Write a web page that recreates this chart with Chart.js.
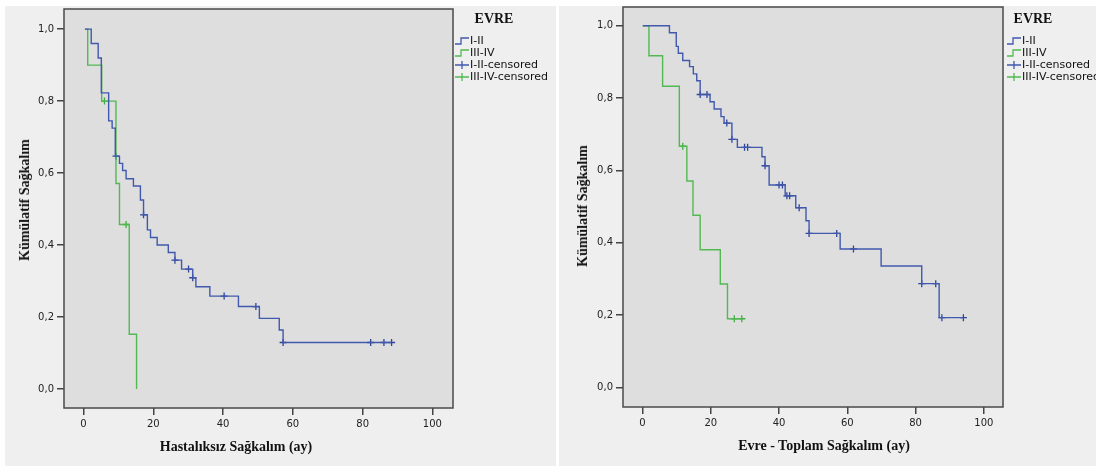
<!DOCTYPE html>
<html><head><meta charset="utf-8">
<script src="https://cdn.jsdelivr.net/npm/chart.js@4.4.0/dist/chart.umd.min.js"></script>
<style>
html,body{margin:0;padding:0;background:#fff;width:1096px;height:466px;overflow:hidden;position:relative;}
.panel{position:absolute;background:#efefef;}
canvas{position:absolute;}
.ytitle{position:absolute;font:bold 14px "Liberation Serif",serif;color:#111;white-space:nowrap;transform:translate(-50%,-50%) rotate(-90deg);}
.xtitle{position:absolute;font:bold 14px "Liberation Serif",serif;color:#111;white-space:nowrap;transform:translate(-50%,-50%);}
.lgttl{position:absolute;font:bold 14px "Liberation Serif",serif;color:#111;white-space:nowrap;transform:translate(-50%,-50%);}
.lgitem{position:absolute;font:11px "DejaVu Sans",sans-serif;color:#111;white-space:nowrap;transform:translateY(-50%);display:flex;align-items:center;line-height:12px;}
.lgitem svg{display:block;margin-right:1px;}
</style>
</head><body>
<div class="panel" style="left:5px;top:6px;width:551px;height:460px;"></div>
<div class="panel" style="left:559px;top:6px;width:537px;height:460px;"></div>
<canvas id="c1" width="551" height="476" style="left:5px;top:-10px;"></canvas>
<canvas id="c2" width="537" height="476" style="left:559px;top:-10px;"></canvas>
<div class="ytitle" style="left:25px;top:200px;">Kümülatif Sağkalım</div>
<div class="ytitle" style="left:583px;top:206px;">Kümülatif Sağkalım</div>
<div class="xtitle" style="left:236px;top:447px;">Hastalıksız Sağkalım (ay)</div>
<div class="xtitle" style="left:824px;top:446px;">Evre - Toplam Sağkalım (ay)</div>
<div id="lg1"></div>
<div id="lg2"></div>
<script>
// ---- shared axis ticks ----
const xTicks = [0, 20, 40, 60, 80, 100];
const xTickLabels = ['0', '20', '40', '60', '80', '100'];
const yTicks = [0, 0.2, 0.4, 0.6, 0.8, 1.0];
const yTickLabels = ['0,0', '0,2', '0,4', '0,6', '0,8', '1,0'];
const legendTitle = 'EVRE';
const legendLabels = ['I-II', 'III-IV', 'I-II-censored', 'III-IV-censored'];

// ---- Chart 1: Hastalıksız Sağkalım ----
const dfsTimeI = [0.4, 2.2, 4.2, 5.1, 7.2, 8.2, 9.1, 10.3, 11.2, 12.2, 14.3, 16.3, 17.2, 18.3, 19.2, 21.1, 24.3, 26.2, 28.1, 31.3, 32.2, 36.2, 44.4, 50.4, 56.1, 57.2, 88.3];
const dfsSurvI = [1.0, 0.96, 0.92, 0.823, 0.745, 0.725, 0.647, 0.627, 0.607, 0.584, 0.564, 0.525, 0.484, 0.442, 0.421, 0.400, 0.379, 0.358, 0.333, 0.309, 0.284, 0.258, 0.229, 0.196, 0.164, 0.129, 0.129];
const dfsCensTimeI = [9.3, 17.2, 26.2, 30.1, 31.3, 40.3, 49.4, 57.2, 82.3, 86.1, 88.3];
const dfsCensSurvI = [0.647, 0.484, 0.358, 0.333, 0.309, 0.258, 0.229, 0.129, 0.129, 0.129, 0.129];
const dfsTimeIII = [0.4, 1.2, 5.2, 9.3, 10.3, 13.1, 15.2];
const dfsSurvIII = [1.0, 0.9, 0.8, 0.571, 0.457, 0.152, 0.0];
const dfsCensTimeIII = [6.0, 12.2];
const dfsCensSurvIII = [0.8, 0.457];

// ---- Chart 2: Evre - Toplam Sağkalım ----
const osTimeI = [0.1, 7.9, 9.9, 10.5, 11.8, 13.8, 14.9, 15.9, 16.9, 19.8, 21.0, 23.0, 23.9, 26.2, 27.8, 35.0, 35.9, 37.1, 41.8, 44.9, 47.9, 48.8, 57.9, 69.9, 81.8, 86.9, 94.0];
const osSurvI = [1.0, 0.981, 0.943, 0.924, 0.904, 0.887, 0.867, 0.848, 0.810, 0.790, 0.770, 0.749, 0.731, 0.686, 0.664, 0.638, 0.613, 0.560, 0.530, 0.497, 0.461, 0.426, 0.383, 0.336, 0.287, 0.193, 0.193];
const osCensTimeI = [16.9, 18.9, 24.7, 26.2, 29.9, 30.8, 35.9, 40.0, 41.0, 42.3, 43.1, 45.9, 48.8, 56.9, 61.8, 81.8, 85.9, 87.7, 94.0];
const osCensSurvI = [0.810, 0.810, 0.731, 0.686, 0.664, 0.664, 0.613, 0.560, 0.560, 0.530, 0.530, 0.497, 0.426, 0.426, 0.383, 0.287, 0.287, 0.193, 0.193];
const osTimeIII = [0.1, 1.9, 5.9, 10.8, 13.0, 14.8, 16.9, 22.8, 24.9, 29.1];
const osSurvIII = [1.0, 0.917, 0.833, 0.667, 0.571, 0.476, 0.381, 0.286, 0.190, 0.190];
const osCensTimeIII = [11.8, 26.9, 29.1];
const osCensSurvIII = [0.667, 0.190, 0.190];

const BLUE = '#4159ad';
const GREEN = '#52b952';
const BLUE_C = '#2f4599';
const GREEN_C = '#3fae3f';

const pts = (t, s) => t.map((v, i) => ({x: v, y: s[i]}));

const framePlugin = {
  id: 'frame',
  beforeDraw(chart) {
    const {ctx, chartArea: a} = chart;
    ctx.save();
    ctx.fillStyle = '#dedede';
    ctx.fillRect(a.left, a.top, a.right - a.left, a.bottom - a.top);
    ctx.restore();
  },
  afterDraw(chart) {
    const {ctx, chartArea: a} = chart;
    ctx.save();
    ctx.strokeStyle = '#4a4a4a';
    ctx.lineWidth = 1.5;
    ctx.strokeRect(a.left, a.top, a.right - a.left, a.bottom - a.top);
    ctx.restore();
  }
};

function makeChart(id, d, geo) {
  const ds = [
    {label: legendLabels[0], data: pts(d.tI, d.sI), stepped: 'before', borderColor: BLUE, borderWidth: 1.4, pointRadius: 0, fill: false},
    {label: legendLabels[1], data: pts(d.tIII, d.sIII), stepped: 'before', borderColor: GREEN, borderWidth: 1.4, pointRadius: 0, fill: false},
    {label: legendLabels[2], data: pts(d.ctI, d.csI), showLine: false, pointStyle: 'cross', pointRadius: 3.5, pointBorderColor: BLUE_C, pointBorderWidth: 1.3, borderColor: BLUE_C},
    {label: legendLabels[3], data: pts(d.ctIII, d.csIII), showLine: false, pointStyle: 'cross', pointRadius: 3.5, pointBorderColor: GREEN_C, pointBorderWidth: 1.3, borderColor: GREEN_C}
  ];
  const tickFont = {family: 'DejaVu Sans', size: 10};
  return new Chart(document.getElementById(id), {
    type: 'line',
    data: {datasets: ds},
    options: {
      responsive: false, animation: false, devicePixelRatio: 1,
      layout: {padding: {left: 0, top: geo.top, right: geo.right, bottom: 0}},
      plugins: {legend: {display: false}, tooltip: {enabled: false}},
      events: [],
      scales: {
        x: {
          type: 'linear', min: geo.xmin, max: geo.xmax,
          afterBuildTicks: s => { s.ticks = xTicks.map(v => ({value: v})); },
          afterFit: s => { s.height = geo.xh; },
          ticks: {callback: (v, i) => xTickLabels[i], font: tickFont, color: '#222', padding: 3, maxRotation: 0, autoSkip: false},
          grid: {display: true, drawOnChartArea: false, drawTicks: true, tickLength: 7, color: '#444', lineWidth: 1.5},
          border: {display: false}
        },
        y: {
          type: 'linear', min: geo.ymin, max: geo.ymax,
          afterBuildTicks: s => { s.ticks = yTicks.map(v => ({value: v})); },
          afterFit: s => { s.width = geo.yw; },
          ticks: {callback: (v, i) => yTickLabels[i], font: tickFont, color: '#222', padding: 3, autoSkip: false},
          grid: {display: true, drawOnChartArea: false, drawTicks: true, tickLength: 7, color: '#444', lineWidth: 1.5},
          border: {display: false}
        }
      }
    },
    plugins: [framePlugin]
  });
}

makeChart('c1',
  {tI: dfsTimeI, sI: dfsSurvI, ctI: dfsCensTimeI, csI: dfsCensSurvI, tIII: dfsTimeIII, sIII: dfsSurvIII, ctIII: dfsCensTimeIII, csIII: dfsCensSurvIII},
  {top: 19, right: 103, xh: 58, yw: 59, xmin: -5.6, xmax: 105.9, ymin: -0.053, ymax: 1.056});
makeChart('c2',
  {tI: osTimeI, sI: osSurvI, ctI: osCensTimeI, csI: osCensSurvI, tIII: osTimeIII, sIII: osSurvIII, ctIII: osCensTimeIII, csIII: osCensSurvIII},
  {top: 17, right: 93, xh: 59, yw: 64, xmin: -5.7, xmax: 105.6, ymin: -0.054, ymax: 1.052});

// ---- HTML legends ----
function stepIcon(c) {
  return '<svg width="14" height="10"><path d="M0 8 H6 V2 H14" stroke="' + c + '" stroke-width="1.3" fill="none"/></svg>';
}
function crossIcon(c) {
  return '<svg width="14" height="10"><path d="M0 5 H14 M7 1 V9" stroke="' + c + '" stroke-width="1.3" fill="none"/></svg>';
}
function buildLegend(elId, titleX, itemX) {
  const el = document.getElementById(elId);
  const rowsY = [41, 53, 65, 77];
  const icons = [stepIcon(BLUE), stepIcon(GREEN), crossIcon(BLUE), crossIcon(GREEN)];
  let html = '<div class="lgttl" style="left:' + titleX + 'px;top:19px;">' + legendTitle + '</div>';
  legendLabels.forEach((lab, i) => {
    html += '<div class="lgitem" style="left:' + itemX + 'px;top:' + rowsY[i] + 'px;">' + icons[i] + '<span>' + lab + '</span></div>';
  });
  el.innerHTML = html;
}
buildLegend('lg1', 494, 455);
buildLegend('lg2', 1033, 1007);
</script>
</body></html>
